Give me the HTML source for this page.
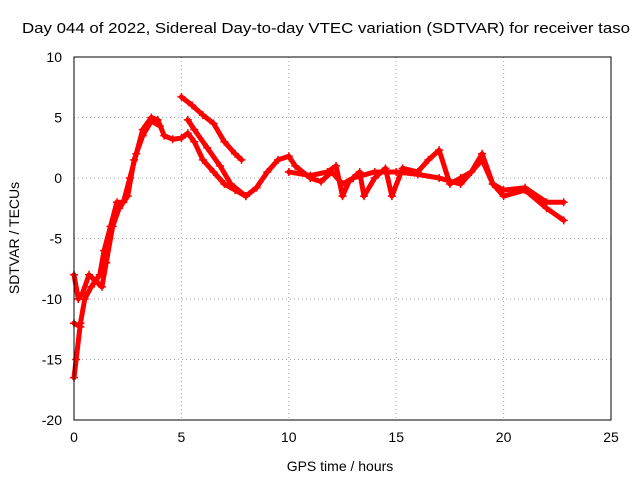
<!DOCTYPE html>
<html><head><meta charset="utf-8"><style>
body{margin:0;background:#fff;}
svg{display:block;font-family:"Liberation Sans",sans-serif;}
</style></head><body>
<svg id="chart" width="640" height="480">
<text x="22" y="33" font-size="15" textLength="608" lengthAdjust="spacingAndGlyphs">Day 044 of 2022, Sidereal Day-to-day VTEC variation (SDTVAR) for receiver taso</text>
<text x="340" y="471" font-size="14" text-anchor="middle">GPS time / hours</text>
<text x="19" y="238" font-size="14" text-anchor="middle" transform="rotate(-90 19 238)">SDTVAR / TECUs</text>
<g id="grid"></g><g id="ticks"></g><g id="series"></g>
<rect x="74" y="57" width="537" height="363" fill="none" stroke="#000"/>
</svg>
<script>
const xTicks=[0,5,10,15,20,25];
const yTicks=[10,5,0,-5,-10,-15,-20];
const trackA=[[0,-16.5],[0.1,-15],[0.3,-12],[0.5,-10],[0.8,-9],[1.2,-8],[1.4,-6],[1.7,-4],[2,-2],[2.3,-2],[2.6,0],[2.9,2],[3.2,4],[3.6,5],[3.9,4.8],[4.2,3.5],[4.6,3.2],[5,3.3],[5.3,3.7],[5.6,3],[6,1.5],[6.5,0.5],[7,-0.5],[7.5,-1],[8,-1.5],[8.5,-0.8],[9,0.5],[9.5,1.5],[10,1.8],[10.3,1],[11,0],[11.5,-0.3],[12,0.5],[12.5,-0.5],[13,0],[14,0.5],[15,0.5],[16,0.3],[17,0],[18,-0.5],[19,1.5],[19.5,-0.5],[20,-1.5],[21,-1],[22,-2.5],[22.8,-3.5]];
const trackB=[[0,-8],[0.2,-10],[0.4,-9.5],[0.7,-8],[1,-8.5],[1.3,-9],[1.5,-7],[1.8,-4],[2.1,-2.5],[2.5,-1.5],[2.8,1.5],[3.2,3.5],[3.6,4.7],[4,4.3]];
const trackB2=[[0,-12],[0.3,-12.3]];
const trackC=[[5,6.7],[5.5,6],[6,5.2],[6.5,4.5],[7,3],[7.5,2],[7.8,1.5]];
const trackD=[[5.3,4.8],[5.6,4],[6.2,2.5],[6.8,1],[7.3,-0.5],[8,-1.5]];
const trackE=[[10,0.5],[11,0.2],[11.8,0.5],[12.2,1],[12.5,-1.5],[12.8,-0.3],[13.3,0.5],[13.5,-1.5],[14,0],[14.5,0.8],[14.8,-1.5],[15.3,0.8],[16,0.5],[16.5,1.5],[17,2.3],[17.5,-0.5],[18,0],[18.5,0.5],[19,2],[19.5,-0.5],[20,-1],[21,-0.8],[22,-2],[22.8,-2]];
const tracks=[trackA,trackB,trackB2,trackC,trackD,trackE];
const X=v=>74+v*(537/25), Y=v=>57+(10-v)*(363/30);
const NS="http://www.w3.org/2000/svg";
const g=document.getElementById('grid'),t=document.getElementById('ticks'),s=document.getElementById('series');
function mk(tag,at,par){const e=document.createElementNS(NS,tag);for(const k in at)e.setAttribute(k,at[k]);par.appendChild(e);return e;}
xTicks.forEach(v=>{
 const l=mk('line',{x1:X(v),x2:X(v),y1:57,y2:420,stroke:'#aaa','stroke-dasharray':'1,3'},g);
 
 
 const tx=mk('text',{x:X(v),y:442,'font-size':14,'text-anchor':'middle'},t);tx.textContent=v;
 
 
});
yTicks.forEach(v=>{
 const l=mk('line',{x1:74,x2:611,y1:Y(v),y2:Y(v),stroke:'#aaa','stroke-dasharray':'1,3'},g);
 
 
 const tx=mk('text',{x:62,y:Y(v)+5,'font-size':14,'text-anchor':'end'},t);tx.textContent=v;
 
 
});
tracks.forEach(tr=>{
 const p=mk('polyline',{points:tr.map(d=>X(d[0])+','+Y(d[1])).join(' '),fill:'none',stroke:'#f00','stroke-width':5,'stroke-linejoin':'round','stroke-linecap':'round'},s);
 
 
 tr.forEach(d=>{
  const m=mk('path',{d:`M${X(d[0])-4},${Y(d[1])}h8M${X(d[0])},${Y(d[1])-4}v8`,stroke:'#f00','stroke-width':1.5},s);
  
  
 });
});
</script>
</body></html>
